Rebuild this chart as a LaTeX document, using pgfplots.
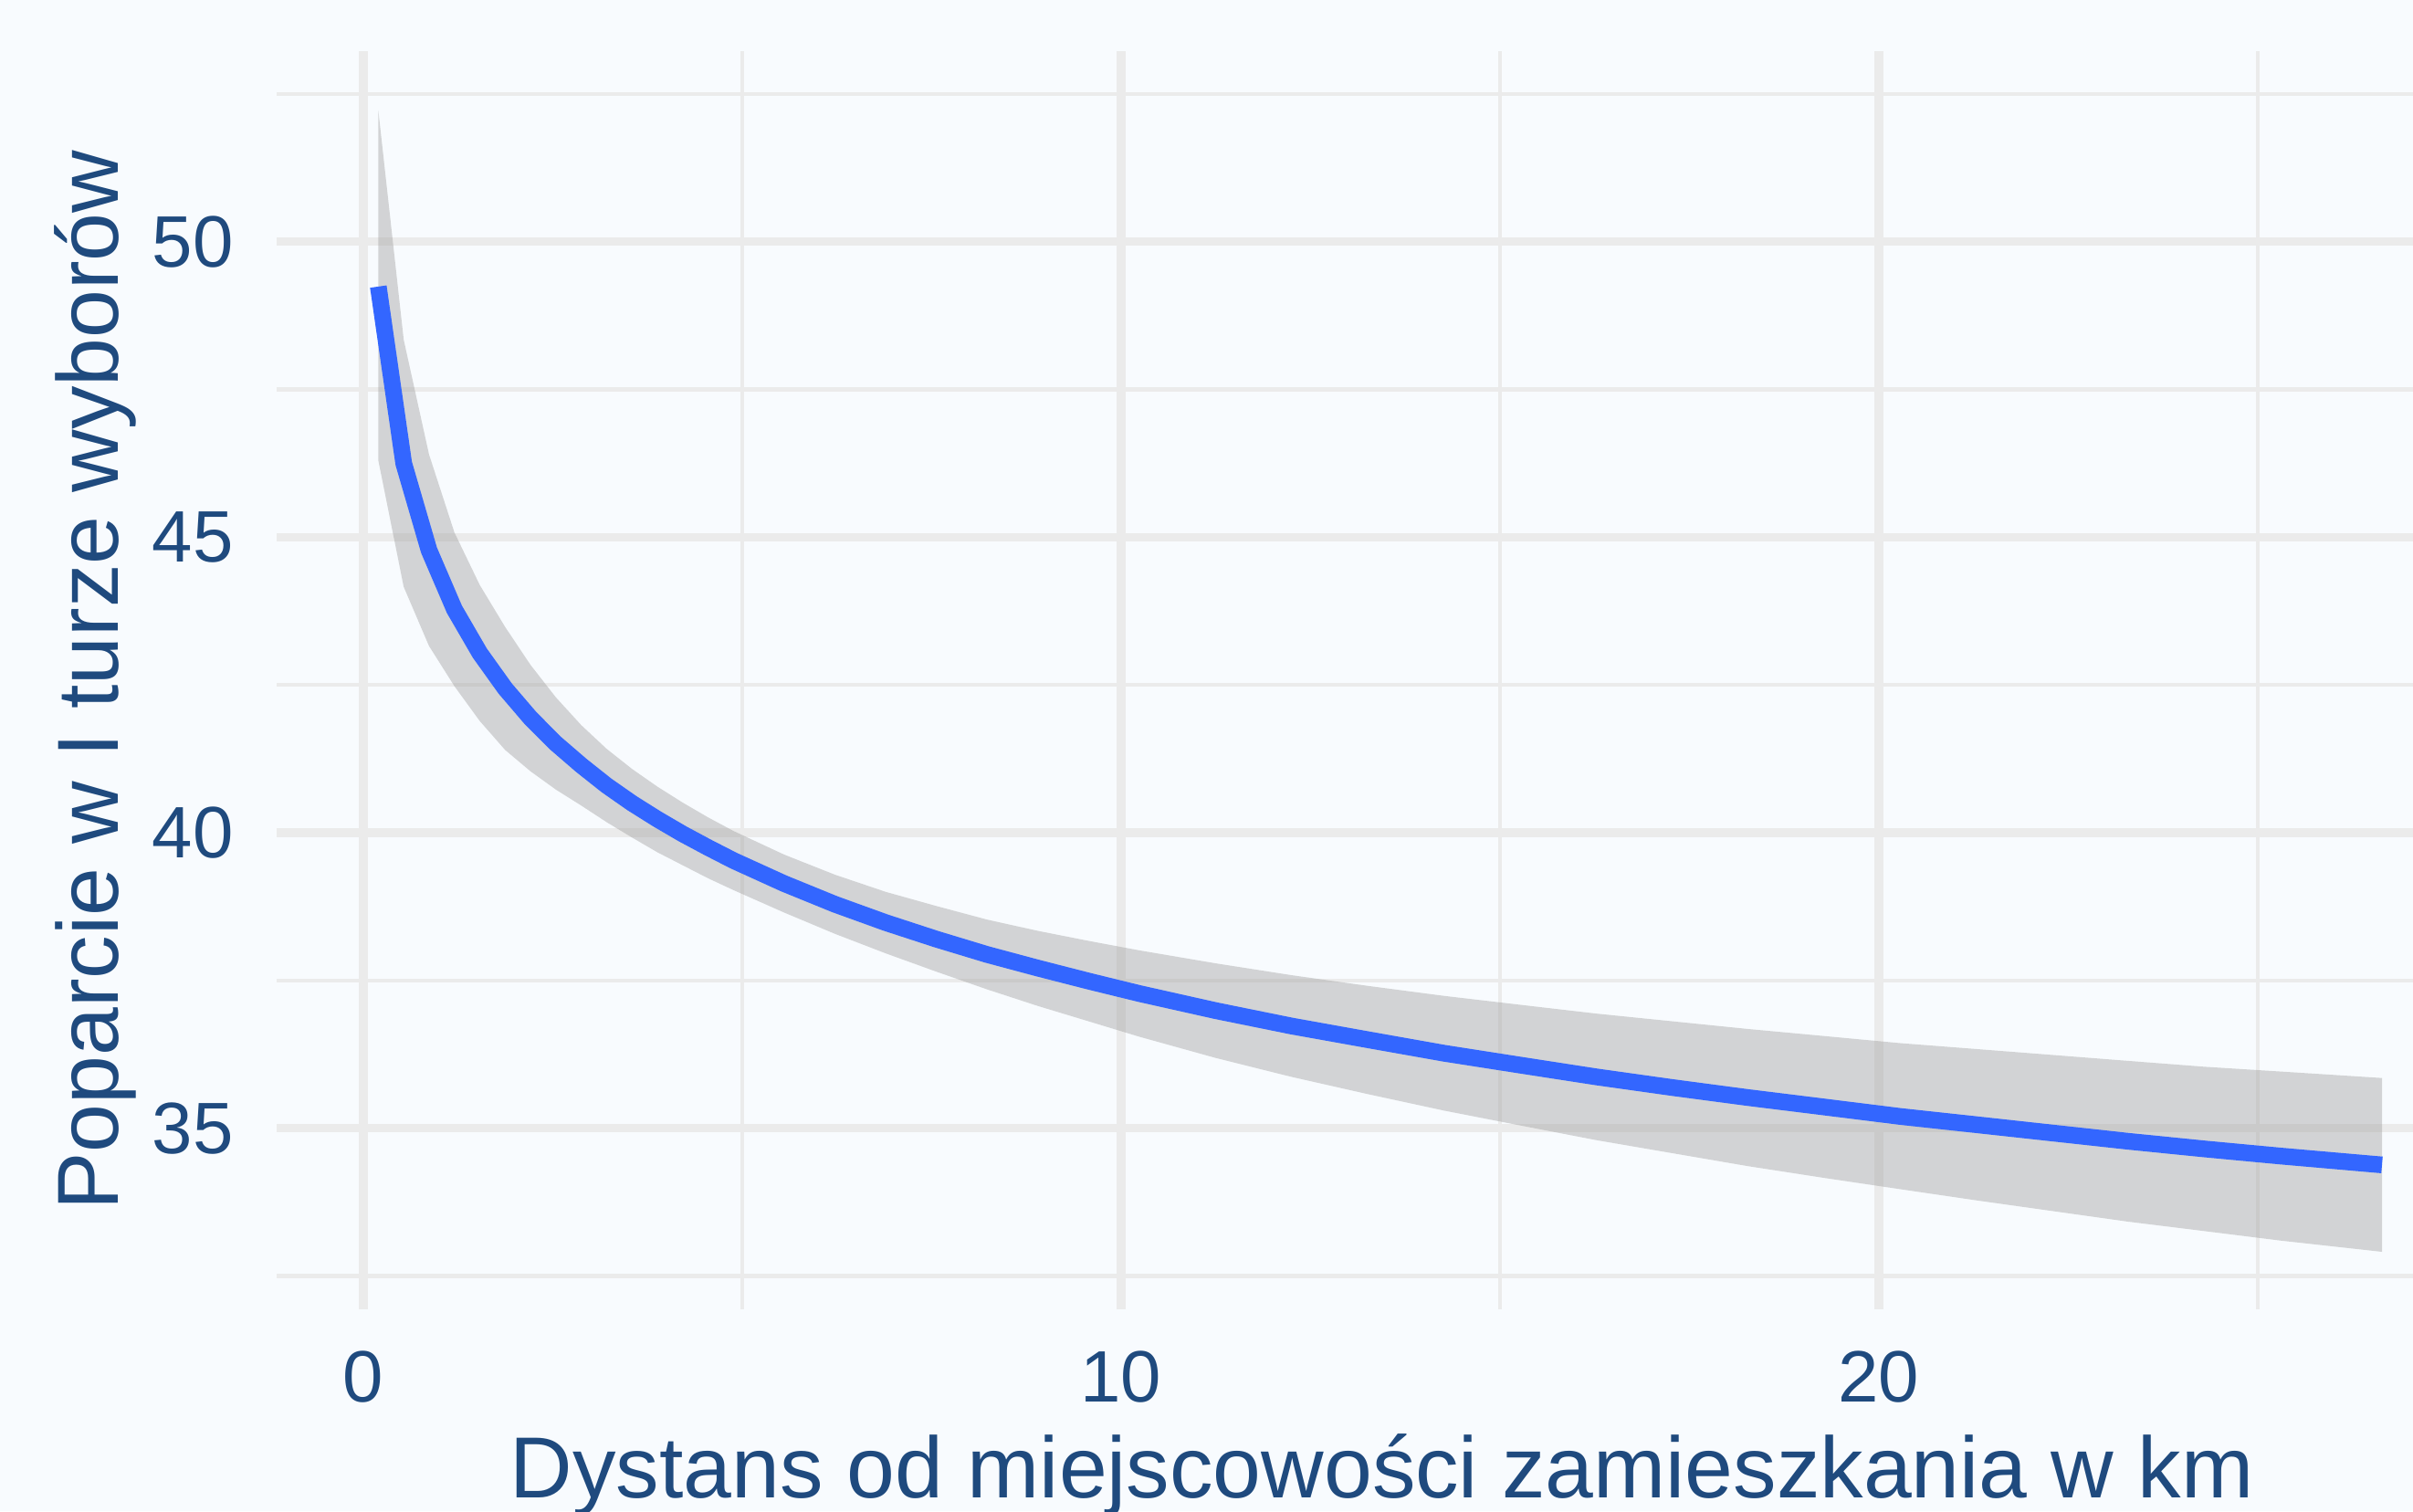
\documentclass[border=0pt]{standalone}
\usepackage{fontspec}
\setmainfont{Liberation Sans}
\usepackage{pgfplots}
\usepackage{pgfplotstable}
\pgfplotsset{compat=1.18}
\definecolor{bg}{HTML}{F8FBFE}
\definecolor{txt}{HTML}{1F4A7E}
\definecolor{gridc}{HTML}{EBEBEB}
\definecolor{smoothc}{HTML}{3366FF}
\definecolor{ribbonc}{HTML}{999999}

% fitted line
\pgfplotstableread{
x      y
0.200  49.24
0.535  46.25
0.869  44.78
1.204  43.78
1.539  43.04
1.874  42.44
2.208  41.94
2.543  41.51
2.878  41.14
3.212  40.80
3.547  40.50
3.882  40.23
4.216  39.98
4.551  39.75
4.886  39.53
5.555  39.14
6.225  38.79
6.894  38.48
7.563  38.20
8.233  37.94
8.902  37.71
9.572  37.49
10.24  37.28
11.25  36.99
12.25  36.73
13.25  36.50
14.26  36.27
15.26  36.07
16.27  35.87
17.27  35.69
18.27  35.52
19.28  35.36
20.28  35.20
21.29  35.06
22.29  34.92
23.29  34.78
24.30  34.65
25.30  34.53
26.64  34.38
}\fitline

% confidence band: upper edge left to right, lower edge right to left
\pgfplotstableread{
x      y
0.200  52.22
0.535  48.34
0.869  46.40
1.204  45.08
1.539  44.19
1.874  43.48
2.208  42.84
2.543  42.29
2.878  41.82
3.212  41.42
3.547  41.08
3.882  40.78
4.216  40.51
4.551  40.26
4.886  40.03
5.555  39.63
6.225  39.29
6.894  39.00
7.563  38.76
8.233  38.53
8.902  38.34
9.572  38.17
10.24  38.01
11.25  37.79
12.25  37.59
13.25  37.41
14.26  37.24
15.26  37.09
16.27  36.94
17.27  36.81
18.27  36.68
19.28  36.56
20.28  36.44
21.29  36.34
22.29  36.24
23.29  36.14
24.30  36.04
25.30  35.96
26.64  35.85
26.64  32.91
25.30  33.10
24.30  33.26
23.29  33.42
22.29  33.60
21.29  33.78
20.28  33.97
19.28  34.16
18.27  34.36
17.27  34.58
16.27  34.80
15.26  35.05
14.26  35.30
13.25  35.58
12.25  35.87
11.25  36.19
10.24  36.55
9.572  36.81
8.902  37.07
8.233  37.35
7.563  37.65
6.894  37.96
6.225  38.29
5.555  38.65
4.886  39.03
4.551  39.23
4.216  39.45
3.882  39.67
3.547  39.92
3.212  40.18
2.878  40.46
2.543  40.73
2.208  41.04
1.874  41.40
1.539  41.89
1.204  42.48
0.869  43.16
0.535  44.16
0.200  46.30
}\band

\begin{document}
\begin{tikzpicture}
\fill[bg] (-54pt,-39.3pt) rectangle (416.4pt,255.3pt);
\begin{axis}[
  at={(0,0)}, anchor=south west,
  scale only axis, width=416.4pt, height=245.4pt,
  xmin=-1.137, xmax=27.05, ymin=31.93, ymax=53.23,
  xtick={0,10,20}, minor xtick={5,15,25},
  ytick={35,40,45,50}, minor ytick={32.5,37.5,42.5,47.5,52.5},
  grid=both,
  major tick length=0pt, minor tick length=0pt,
  major grid style={draw=gridc, line width=1.7pt},
  minor grid style={draw=gridc, line width=0.8pt},
  axis line style={draw=none},
  /pgf/number format/assume math mode=true,
  ticklabel style={font=\fontsize{14.2}{17}\selectfont, text=txt, inner sep=0pt},
  xticklabel style={anchor=north, yshift=-7.8pt},
  yticklabel style={anchor=east, xshift=-8.3pt},
  xlabel={Dystans od miejscowości zamieszkania w km},
  ylabel={Poparcie w I turze wyborów},
  label style={font=\fontsize{16.9}{20}\selectfont, text=txt, inner sep=0pt},
  xlabel style={at={(axis description cs:0.5173,-0.1491)}, anchor=base},
  ylabel style={at={(axis description cs:-0.0742,0.5)}, anchor=base},
]
\addplot[fill=ribbonc, fill opacity=0.4, draw=none, mark=none] table[x=x, y=y] {\band} -- cycle;
\addplot[smoothc, line width=3.25pt, line join=round, line cap=butt, mark=none] table[x=x, y=y] {\fitline};
\end{axis}
\pgfresetboundingbox
\useasboundingbox (-54pt,-39.3pt) rectangle (416.4pt,255.3pt);
\end{tikzpicture}
\end{document}
